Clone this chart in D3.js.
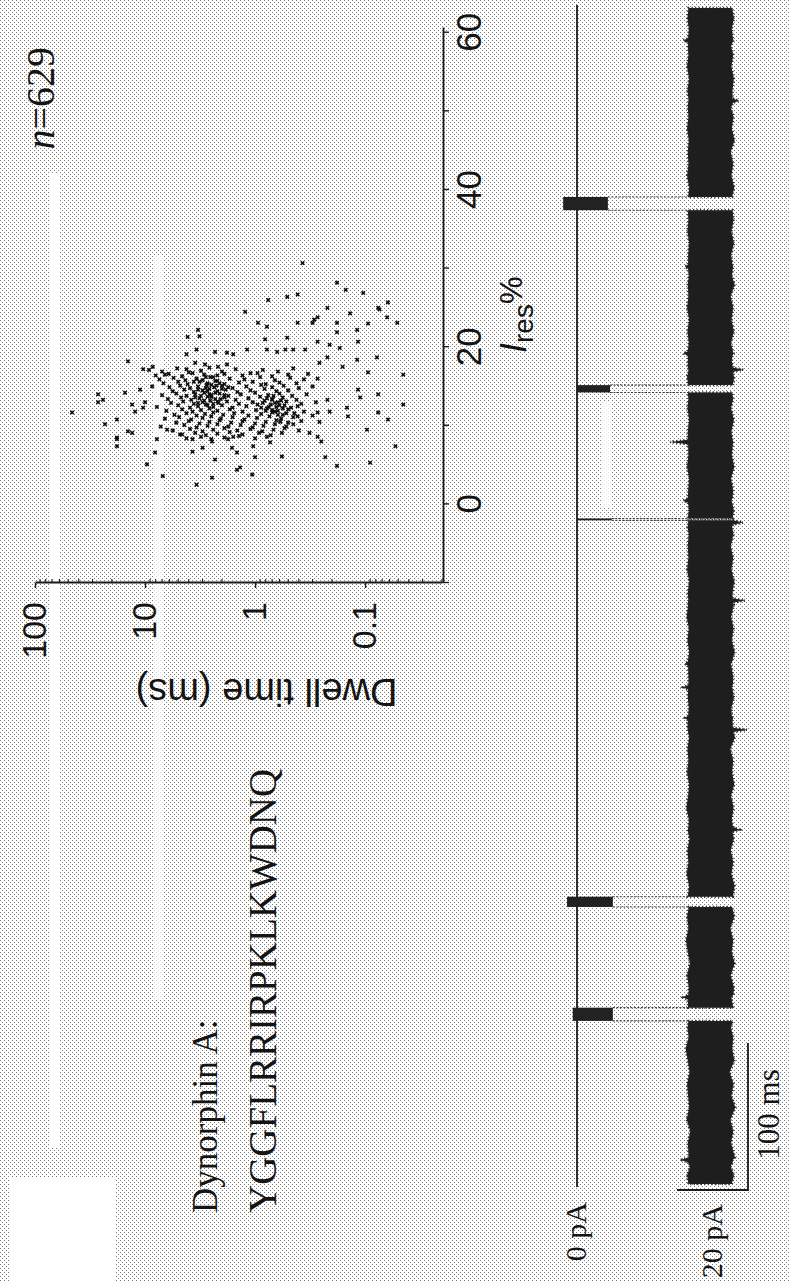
<!DOCTYPE html>
<html>
<head>
<meta charset="utf-8">
<script src="https://cdn.jsdelivr.net/npm/d3@7"></script>
<style>
  html, body { margin: 0; padding: 0; background: #fff; }
  svg { display: block; }
  text { fill: #141414; }
</style>
</head>
<body>
<svg id="fig" width="790" height="1281"></svg>
<script>
// ---------------- data ----------------
// residual current axis
const iresTicks = [-10, 0, 10, 20, 30, 40, 50, 60];
const iresLabels = [0, 20, 40, 60];
// dwell time axis (log)
const dwellMajor = [100, 10, 1, 0.1];
const dwellLabels = ["100", "10", "1", "0.1"];

// translocation events: [Ires %, dwell time ms]
const sparseEvents = [
  [30.7,0.37],[28.2,0.18],[27.3,0.15],[26.9,0.104],[26.4,0.51],[26.7,0.41],[26.0,0.76],[25.7,0.062],
  [25.0,0.076],[25.0,0.22],[24.3,0.137],[24.5,1.23],[24.8,0.074],[23.8,0.063],[23.8,0.27],[23.5,0.29],
  [23.1,0.30],[23.1,0.41],[23.1,0.18],[23.1,0.94],[22.6,0.78],[23.0,0.094],[23.1,0.051],[22.2,0.118],
  [21.9,0.18],[22.2,3.3],[21.2,0.51],[20.7,0.27],[21.0,0.81],[20.7,0.116],[21.3,4.1],[21.4,3.2],
  [19.9,0.17],[20.3,0.21],[19.7,3.4],[19.7,1.18],[19.7,0.78],[19.7,0.53],[19.7,0.45],[19.7,0.35],
  [19.4,0.63],[19.4,2.31],[19.3,1.8],[19.1,4.2],[19.1,1.58],[18.7,0.078],[18.4,0.118],[18.7,0.22],
  [18.2,14.3],[17.5,8.5],[18.0,3.5],[17.8,2.85],[17.5,2.17],[17.8,1.8],[18.0,0.26],[17.5,0.16],
  [17.2,10.4],[16.5,6.6],[17.2,4.2],[16.8,0.094],[16.5,0.045],
  [14.0,26.7],[13.3,24.1],[13.0,26.7],[14.2,15.2],[14.6,11.1],[11.8,12.3],[12.7,13.1],[12.3,10.4],
  [13.0,10.0],[10.8,18.0],[10.2,23.1],[9.1,13.1],[8.3,18.0],[7.4,18.0],[8.3,7.8],[9.5,6.3],
  [6.6,8.1],[5.1,9.6],[3.6,6.9],[2.5,3.4],[3.4,2.46],[4.4,1.46],[5.7,2.31],[6.6,1.46],
  [7.2,1.62],[6.7,3.7],[8.0,2.46],[7.2,3.0],[8.3,1.76],[8.6,1.58],[8.3,3.7],[8.9,4.8],
  [11.7,46],[8.5,18.0],[9.3,14.3],
  [14.6,0.116],[13.6,0.111],[14.0,0.076],[12.7,0.045],[12.3,0.146],[11.2,0.143],[11.7,0.076],[10.8,0.062],
  [9.5,0.096],[7.4,0.053],[13.3,0.22],[11.8,0.21],[10.5,0.26],[11.7,0.27],[9.1,0.32],[8.6,0.27],
  [8.0,0.25],[10.2,0.45],[11.2,0.41],[12.5,0.41],[9.1,0.57],[10.5,0.59],[7.9,0.73],[7.4,1.04],
  [6.0,1.0],[6.1,0.57],[6.0,0.23],[4.9,0.18],[5.3,0.090],[3.8,1.06],[4.7,1.37]
];
const coreEvents = [
  [17.1,9.2],[16.9,7.0],[17.3,5.1],[16.8,4.0],[17.0,3.1],[17.4,2.6],[16.9,2.0],[17.2,1.5],[16.7,1.1],[17.1,0.85],[16.9,0.62],[17.3,0.45],
  [16.4,8.0],[16.6,6.1],[16.3,4.6],[16.7,3.7],[16.5,2.9],[16.2,2.4],[16.6,1.9],[16.4,1.3],[16.7,0.95],[16.3,0.70],[16.5,0.50],[16.6,0.33],
  [15.9,7.4],[16.1,5.5],[15.8,4.3],[16.0,3.4],[16.2,2.8],[15.7,2.2],[16.0,1.7],[15.9,1.25],[16.2,0.90],[15.8,0.66],[16.1,0.48],[15.9,0.36],[16.0,0.27],
  [15.4,6.8],[15.6,5.0],[15.3,4.1],[15.6,3.2],[15.4,2.7],[15.7,2.3],[15.3,1.9],[15.5,1.4],[15.6,1.05],[15.3,0.80],[15.5,0.60],[15.4,0.42],
  [15.0,8.6],[14.9,6.0],[15.1,4.8],[14.8,3.9],[15.0,3.3],[15.2,2.75],[14.9,2.35],[15.1,2.0],[14.8,1.6],[15.0,1.2],[15.2,0.88],[14.9,0.70],[15.1,0.55],[14.8,0.40],[15.0,0.30],
  [14.4,5.6],[14.6,4.4],[14.3,3.6],[14.5,3.0],[14.7,2.6],[14.4,2.2],[14.6,1.85],[14.3,1.45],[14.5,1.10],[14.7,0.82],[14.4,0.64],[14.5,0.50],
  [13.9,7.0],[14.1,5.2],[13.8,4.2],[14.0,3.5],[14.2,2.9],[13.9,2.5],[14.1,2.1],[13.8,1.75],[14.0,1.35],[14.2,1.0],[13.9,0.76],[14.1,0.60],[13.8,0.46],[14.0,0.34],
  [13.4,6.2],[13.6,4.7],[13.3,3.8],[13.5,3.2],[13.7,2.7],[13.4,2.3],[13.6,1.9],[13.3,1.5],[13.5,1.15],[13.7,0.90],[13.4,0.70],[13.6,0.56],[13.3,0.42],
  [12.9,5.8],[13.1,4.5],[12.8,3.6],[13.0,3.0],[13.2,2.55],[12.9,2.15],[13.1,1.8],[12.8,1.4],[13.0,1.05],[13.2,0.82],[12.9,0.66],[13.1,0.52],[12.8,0.38],[13.0,0.28],
  [12.4,7.8],[12.6,5.0],[12.3,3.9],[12.5,3.3],[12.7,2.8],[12.4,2.4],[12.6,2.0],[12.3,1.6],[12.5,1.2],[12.7,0.95],[12.4,0.75],[12.6,0.60],[12.3,0.47],
  [11.9,6.4],[12.1,4.6],[11.8,3.7],[12.0,3.1],[12.2,2.6],[11.9,2.2],[12.1,1.7],[11.8,1.3],[12.0,0.98],[12.2,0.78],[11.9,0.62],[12.1,0.50],[11.8,0.36],
  [11.4,5.4],[11.6,4.2],[11.3,3.4],[11.5,2.85],[11.7,2.4],[11.4,1.95],[11.6,1.55],[11.3,1.15],[11.5,0.88],[11.7,0.70],[11.4,0.56],[11.6,0.44],[11.3,0.30],
  [10.9,6.6],[11.1,4.9],[10.8,3.8],[11.0,3.0],[11.2,2.5],[10.9,2.05],[11.1,1.6],[10.8,1.25],[11.0,0.96],[11.2,0.74],[10.9,0.58],[11.1,0.45],
  [10.4,5.2],[10.6,4.0],[10.3,3.2],[10.5,2.6],[10.7,2.1],[10.4,1.65],[10.6,1.3],[10.3,1.0],[10.5,0.80],[10.7,0.64],[10.4,0.50],[10.6,0.38],
  [9.9,7.2],[10.1,4.4],[9.8,3.4],[10.0,2.7],[10.2,2.2],[9.9,1.75],[10.1,1.35],[9.8,1.05],[10.0,0.84],[10.2,0.66],[9.9,0.52],
  [9.4,5.6],[9.6,3.9],[9.3,3.0],[9.5,2.4],[9.7,1.9],[9.4,1.45],[9.6,1.1],[9.3,0.86],[9.5,0.68],[9.7,0.54],[9.4,0.40],
  [8.9,4.6],[9.1,3.5],[8.8,2.8],[9.0,2.2],[9.2,1.7],[8.9,1.3],[9.1,0.92],[8.8,0.72],
  [8.4,4.2],[8.6,3.1],[8.3,2.5],[8.5,1.9],[8.7,1.4],[8.4,1.0],[8.6,0.78],
  [15.8,3.0],[15.2,2.5],[14.8,2.8],[14.2,2.3],[13.7,2.5],[13.2,2.9],[12.8,2.4],[14.6,3.3],[15.4,2.1],[13.9,1.9],
  [14.9,1.75],[13.4,2.05],[12.6,2.7],[16.2,2.55],[15.6,3.6],[14.4,2.7],[13.8,3.1],[14.0,2.6],[15.1,2.25],[12.9,3.3],
  [13.6,3.5],[16.4,2.2],[14.7,2.0],[13.1,2.2],
  [13.8,0.68],[13.2,0.58],[12.7,0.72],[12.2,0.56],[11.8,0.66],[12.9,0.85],[12.4,0.64],[13.5,0.78],
  [11.4,0.62],[12.0,0.70],[13.0,0.62],[12.6,0.54],[11.9,0.80],[12.3,0.88],[11.6,0.52],[13.3,0.70]
];
const eventCount = "n=629";

// open-pore current envelope: [time ms, lower pA, upper pA]
const openBand = [
  [2,31.4,43.6],[8,31.0,44.2],[14,31.8,43.3],[17,31.2,43.9],[18.4,29.0,43.9],[20,31.5,44.5],[30,31.2,43.4],[38,31.9,44.0],
  [46,30.9,43.2],[54,31.6,44.6],[62,31.3,43.5],[70,31.0,44.1],[78,31.7,43.0],[86,31.2,44.3],[94,30.6,43.7],[102,31.5,44.0],
  [108,31.1,43.4],[113,31.4,43.8],
  [122,31.3,44.0],[127.5,31.2,43.6],[129,29.9,43.5],[131,31.4,44.1],[136,31.5,44.2],[144,31.0,43.3],[152,31.8,44.4],[160,31.2,43.6],
  [168,30.7,44.0],[176,31.4,43.2],[184,31.0,44.3],[190.5,31.5,43.7],
  [197.5,31.2,43.9],[205,31.6,44.4],[213,30.9,43.5],[221,31.4,44.0],[229,31.1,43.3],[237,31.7,44.2],[241.5,31.3,43.8],[243,31.2,45.8],
  [245,31.4,43.9],[250,31.5,43.6],[258,30.8,44.1],[266,31.3,43.4],[274,31.6,44.3],[282,31.0,43.7],[290,31.4,44.0],[298,31.1,43.2],
  [306,31.6,44.5],[309.5,31.3,44.0],[311,31.2,47.9],[312.5,31.1,43.9],[317.5,31.2,43.8],[319,30.4,44.0],[320.5,31.3,43.6],[326,31.5,43.5],
  [333,31.2,44.2],[338.5,31.3,43.8],[340,29.9,43.6],[341.5,31.4,43.9],[347,31.4,44.0],[354.5,31.3,43.5],[356,30.4,43.3],[357.5,31.2,43.7],
  [364,31.6,44.4],[372,31.1,43.6],[380,31.5,44.1],[388,30.9,43.4],[396,31.3,44.2],[397.5,31.2,43.9],[399,31.4,47.3],[400.5,31.3,43.8],
  [404,31.2,43.8],[412,31.6,44.3],[420,31.0,43.5],[428,31.4,44.0],[436,31.2,43.3],[444,31.5,44.1],[449,31.1,43.7],[450.5,31.3,43.9],
  [452,31.3,46.8],[453.5,31.4,44.0],
  [454.8,31.2,43.8],[460,31.5,44.2],[465.5,31.3,43.7],[467,29.9,43.5],[468.5,31.2,43.8],[474,31.3,44.0],[482,31.6,43.4],[490,31.0,44.3],
  [498,31.4,43.6],[505.3,31.3,43.9],[506.8,26.2,44.0],[508.3,31.2,43.8],[514,31.2,43.5],[522,31.6,44.2],[530,31.1,43.4],[536,31.4,44.0],
  [540.5,31.2,43.7],
  [545.5,31.3,43.9],[551,31.0,44.3],[554.5,31.3,43.8],[556,31.4,46.8],[557.5,31.2,43.9],[562,31.2,43.6],[565.5,31.3,43.8],[567,29.9,44.1],
  [568.5,31.2,43.9],[574,31.5,43.4],[582,31.1,44.2],[590,31.6,43.5],[598,31.0,44.0],[606,31.4,43.3],[614,31.2,44.4],[620,31.5,43.6],
  [624.5,31.3,43.9],[626,30.4,44.0],[627.5,31.3,43.8],[634,31.3,43.4],[642,31.6,44.2],[650,31.1,43.5],[658,31.4,44.1],[664.5,31.2,43.8],
  [673.5,31.3,43.7],[680,31.6,44.3],[688,31.0,43.5],[696,31.4,44.0],[704,31.2,43.3],[712,31.5,44.4],[720,31.0,43.6],[728,31.4,44.1],
  [734,31.2,43.4],[737.5,31.3,43.9],[739,31.5,45.6],[740.5,31.4,43.8],[746,31.1,43.8],[754,31.6,44.2],[762,31.0,43.5],[770,31.4,44.0],
  [776,31.2,43.4],[778.5,31.3,43.8],[780,29.9,44.1],[781.5,31.3,43.9],[788,31.5,43.6],[795,31.1,44.2],[802,31.4,43.7]
];
// blockade events: [start ms, end ms, lower pA, upper pA]
const blockades = [
  [113, 122, -1.2, 10.1],
  [190.5, 197.5, -2.8, 10.1],
  [453.5, 454.8, 0.0, 9.8],
  [540.5, 545.5, 0.0, 9.3],
  [664.5, 673.5, -3.9, 8.7]
];
const traceSpan = [0, 804];
const scaleBarTime = 100;   // ms
const scaleBarCurrent = 20; // pA
const peptideName = "Dynorphin A:";
const peptideSequence = "YGGFLRRIRPKLKWDNQ";

// ---------------- drawing ----------------
const svg = d3.select("#fig");
const defs = svg.append("defs");

// halftone screen of the printed page
const screen = defs.append("pattern")
  .attr("id", "screen").attr("width", 4).attr("height", 4)
  .attr("patternUnits", "userSpaceOnUse");
screen.append("rect").attr("width", 4).attr("height", 4).attr("fill", "#fff");
screen.append("rect").attr("x", 0).attr("y", 0).attr("width", 1).attr("height", 1).attr("fill", "#7c7c7c");
screen.append("rect").attr("x", 2).attr("y", 2).attr("width", 1).attr("height", 1).attr("fill", "#7c7c7c");
svg.append("rect").attr("width", 790).attr("height", 1281).attr("fill", "url(#screen)");

// blank patches left on the sheet
const patches = [
  {x: 49, y: 173, w: 11, h: 974, o: 1},
  {x: 153, y: 255, w: 10, h: 745, o: 0.7},
  {x: 601, y: 402, w: 11, h: 106, o: 0.8},
  {x: 10, y: 1178, w: 105, h: 103, o: 1}
];
svg.append("g").selectAll("rect").data(patches).join("rect")
  .attr("x", d => d.x).attr("y", d => d.y).attr("width", d => d.w).attr("height", d => d.h)
  .attr("fill", "#fff").attr("opacity", d => d.o);

// the figure is laid out landscape (1281 x 790) and turned a quarter turn
const page = svg.append("g").attr("transform", "translate(0,1281) rotate(-90)");
const sans = "'Liberation Sans', Arial, sans-serif";
const serif = "'Liberation Serif', 'Times New Roman', serif";
const ink = "#1a1a1a";

// ---- scatter plot ----
const x = d3.scaleLinear().domain([-10, 60.6]).range([698, 1253]);
const y = d3.scaleLog().domain([0.02, 100]).range([442, 35]);

const pts = page.append("g");
pts.selectAll("path").data(sparseEvents.concat(coreEvents)).join("path")
  .attr("transform", d => `translate(${x(d[0])},${y(d[1])}) rotate(45)`)
  .attr("d", d3.symbol(d3.symbolCross, 13))
  .attr("fill", "#0d0d0d");

// dwell axis
const yAxis = page.append("g").attr("transform", "translate(698,0)")
  .call(d3.axisLeft(y).tickValues(dwellMajor).tickSize(5).tickSizeOuter(0).tickPadding(14)
    .tickFormat((d, i) => dwellLabels[i]));
yAxis.select(".domain").attr("stroke", ink).attr("stroke-width", 1.8);
yAxis.selectAll(".tick line").attr("stroke", ink).attr("stroke-width", 1.4);
yAxis.selectAll(".tick text").attr("font-family", sans).attr("font-size", 34).attr("fill", ink);

const minor = [];
[-2, -1, 0, 1].forEach(e => { for (let m = 2; m <= 9; m++) { const v = m * Math.pow(10, e); if (v >= 0.02 && v < 100) minor.push(v); } });
page.append("g").selectAll("line").data(minor).join("line")
  .attr("x1", 698).attr("x2", 702).attr("y1", d => y(d)).attr("y2", d => y(d))
  .attr("stroke", ink).attr("stroke-width", 1.1);

page.append("text")
  .attr("transform", `translate(589,${(y(100) + y(0.02)) / 2 + 28}) rotate(-90)`)
  .attr("text-anchor", "middle").attr("dominant-baseline", "central")
  .attr("font-family", sans).attr("font-size", 38)
  .text("Dwell time (ms)");

// residual current axis
const xAxis = page.append("g").attr("transform", "translate(0,443)")
  .call(d3.axisBottom(x).tickValues(iresTicks).tickSize(6).tickSizeOuter(0).tickPadding(7)
    .tickFormat(d => iresLabels.includes(d) ? d : ""));
xAxis.select(".domain").attr("stroke", ink).attr("stroke-width", 1.8);
xAxis.selectAll(".tick line").attr("stroke", ink).attr("stroke-width", 1.4);
xAxis.selectAll(".tick text").attr("font-family", sans).attr("font-size", 35).attr("fill", ink);

const xt = page.append("text").attr("x", 928).attr("y", 526).attr("font-family", sans);
xt.append("tspan").attr("font-size", 36).attr("font-style", "italic").text("I");
xt.append("tspan").attr("font-size", 28).attr("dy", 7).text("res");
xt.append("tspan").attr("font-size", 31).attr("dy", -11).text("%");

const nt = page.append("text").attr("x", 1234).attr("y", 54).attr("text-anchor", "end")
  .attr("font-family", serif).attr("font-size", 40);
nt.append("tspan").attr("font-style", "italic").text(eventCount.split("=")[0]);
nt.append("tspan").text("=" + eventCount.split("=")[1]);

// ---- current trace ----
const tx = d3.scaleLinear().domain([0, 800]).range([94, 1270]);
const ty = d3.scaleLinear().domain([0, 20]).range([577, 648]);

const trace = page.append("g");
// zero-current reference
trace.append("line")
  .attr("x1", tx(traceSpan[0])).attr("x2", tx(traceSpan[1]))
  .attr("y1", ty(0)).attr("y2", ty(0))
  .attr("stroke", ink).attr("stroke-width", 1.8);

// open-pore segments between blockades
const cuts = [openBand[0][0]].concat(...blockades.map(b => [b[0], b[1]])).concat([openBand[openBand.length - 1][0]]);
const segments = [];
for (let i = 0; i < cuts.length; i += 2) {
  segments.push(openBand.filter(s => s[0] >= cuts[i] && s[0] <= cuts[i + 1]));
}
const band = d3.area().x(d => tx(d[0])).y0(d => ty(d[1])).y1(d => ty(d[2]));
trace.selectAll("path.band").data(segments).join("path").attr("class", "band")
  .attr("d", band).attr("fill", "#1e1e1e")
  .attr("stroke", "#2a2a2a").attr("stroke-width", 2.5).attr("stroke-dasharray", "1.2,2.3");

// blockade levels
trace.selectAll("rect.block").data(blockades).join("rect").attr("class", "block")
  .attr("x", d => tx(d[0])).attr("width", d => Math.max(1.5, tx(d[1]) - tx(d[0])))
  .attr("y", d => ty(d[2])).attr("height", d => ty(d[3]) - ty(d[2]))
  .attr("fill", "#222");
// transitions into and out of each blockade
const edges = [];
blockades.forEach(b => { edges.push([b[0], b[3]]); edges.push([b[1], b[3]]); });
trace.selectAll("line.edge").data(edges).join("line").attr("class", "edge")
  .attr("x1", d => tx(d[0])).attr("x2", d => tx(d[0]))
  .attr("y1", d => ty(d[1])).attr("y2", ty(32))
  .attr("stroke", "#3a3a3a").attr("stroke-width", 1.1).attr("stroke-dasharray", "2,1.5");

// scale bars
const sbx = 91, sby = 748;
const bars = page.append("g");
bars.append("path")
  .attr("d", `M${sbx},${sby - (ty(scaleBarCurrent) - ty(0))}V${sby}H${sbx + tx(scaleBarTime) - tx(0)}`)
  .attr("fill", "none").attr("stroke", ink).attr("stroke-width", 1.8);
bars.append("text").attr("x", 77).attr("y", 722).attr("text-anchor", "end")
  .attr("font-family", serif).attr("font-size", 30).attr("fill", "#333").text(scaleBarCurrent + " pA");
bars.append("text").attr("x", sbx + (tx(scaleBarTime) - tx(0)) / 2 + 2).attr("y", 779).attr("text-anchor", "middle")
  .attr("font-family", serif).attr("font-size", 31).attr("fill", "#333").text(scaleBarTime + " ms");
page.append("text").attr("x", 79).attr("y", 586).attr("text-anchor", "end")
  .attr("font-family", serif).attr("font-size", 30).attr("fill", "#333").text("0 pA");

// peptide
page.append("text").attr("x", 68).attr("y", 217)
  .attr("font-family", serif).attr("font-size", 35).text(peptideName);
page.append("text").attr("x", 68).attr("y", 276)
  .attr("font-family", serif).attr("font-size", 39).attr("fill", "#6a6a6a").text(peptideSequence);
</script>
</body>
</html>
